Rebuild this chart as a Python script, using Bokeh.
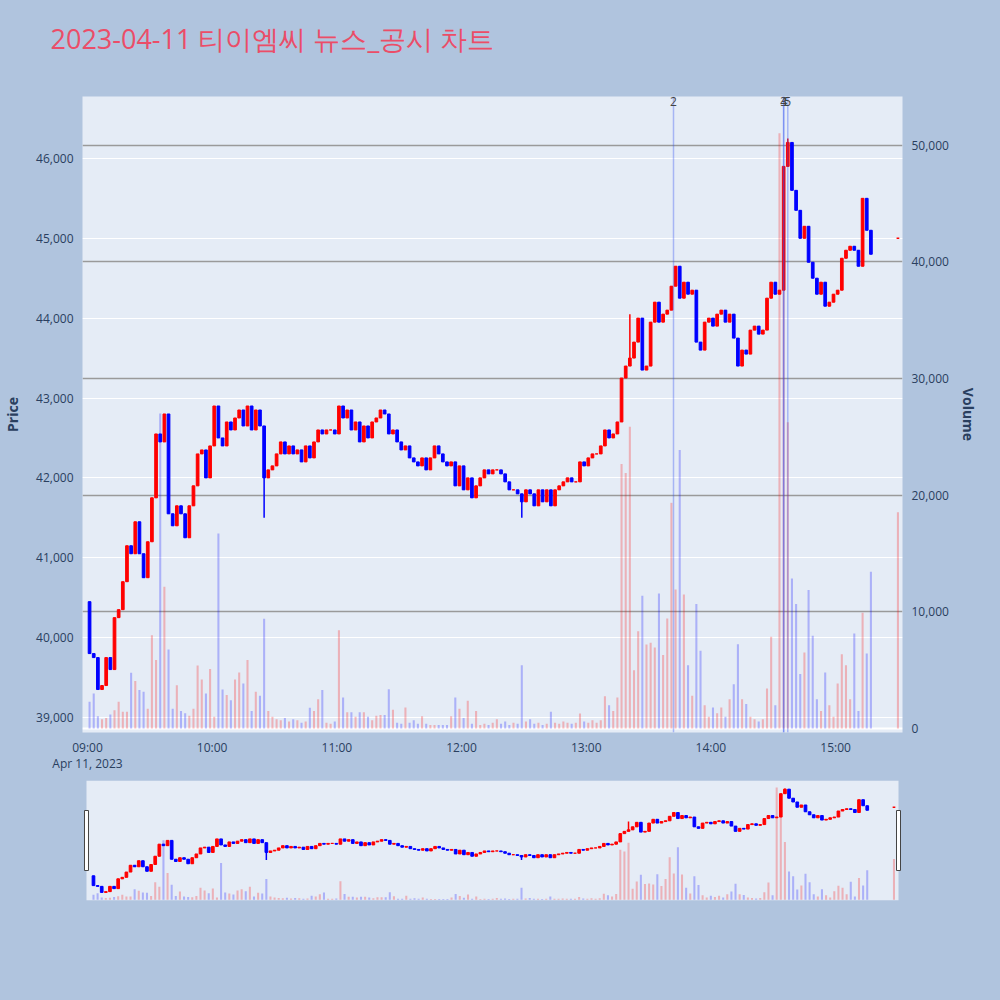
import pandas as pd
from bokeh.plotting import figure
from bokeh.models import (Range1d, LinearAxis, FixedTicker, NumeralTickFormatter,
                          DatetimeTickFormatter, Grid, Span, Label, ColumnDataSource,
                          BoxAnnotation, Title)
from bokeh.layouts import column
from bokeh.embed import file_html
from bokeh.resources import INLINE

# ---------------- data ----------------
title_text = "2023-04-11 티이엠씨 뉴스_공시 차트"
date_context = "Apr 11, 2023"
session_start = "2023-04-11 09:00"
bin_minutes = 2
first_open = 40450

closes = [
    39800, 39750, 39350, 39400, 39750, 39600, 40250, 40350, 40700, 41150,
    41050, 41450, 41050, 40750, 41200, 41750, 42550, 42450, 42800, 41550,
    41400, 41650, 41550, 41250, 41650, 41900, 42300, 42350, 42000, 42400,
    42900, 42500, 42400, 42700, 42600, 42750, 42850, 42650, 42900, 42600,
    42850, 42650, 42000, 42100, 42150, 42300, 42450, 42300, 42400, 42300,
    42350, 42200, 42400, 42250, 42450, 42600, 42550, 42600, 42600, 42550,
    42900, 42750, 42850, 42600, 42700, 42450, 42650, 42500, 42700, 42750,
    42850, 42800, 42550, 42600, 42450, 42350, 42400, 42250, 42200, 42150,
    42250, 42100, 42250, 42400, 42300, 42200, 42150, 42200, 41900, 42150,
    41850, 42000, 41750, 41900, 42000, 42100, 42050, 42100, 42100, 42050,
    41950, 41850, 41850, 41800, 41700, 41850, 41800, 41650, 41850, 41700,
    41850, 41650, 41850, 41900, 41950, 42000, 41950, 41950, 42200, 42150,
    42250, 42300, 42300, 42400, 42600, 42500, 42550, 42700, 43250, 43400,
    43500, 43700, 44000, 43350, 43400, 43950, 44200, 43950, 44050, 44100,
    44400, 44650, 44250, 44450, 44300, 44350, 43700, 43600, 43950, 44000,
    43900, 44050, 44100, 43950, 44050, 43750, 43400, 43600, 43550, 43850,
    43900, 43800, 43850, 44250, 44450, 44300, 44350, 45900, 46200, 45600,
    45350, 45000, 45150, 44700, 44500, 44300, 44450, 44150, 44200, 44300,
    44350, 44750, 44850, 44900, 44850, 44650, 45500, 45100, 44800,
]

volumes = [
    2300, 3000, 1050, 800, 900, 1200, 1570, 2290, 1430, 1430,
    4770, 4060, 3290, 3140, 1700, 8000, 5860, 27000, 12140, 6770,
    1700, 3700, 1500, 1300, 1100, 1700, 5400, 4200, 3000, 5090,
    1000, 16700, 3340, 2860, 2430, 4200, 4800, 3860, 5860, 1500,
    3140, 2800, 9400, 1500, 1000, 800, 700, 900, 600, 800,
    700, 500, 600, 1770, 1500, 2500, 3300, 500, 400, 600,
    8430, 2660, 1400, 1400, 1000, 1400, 1400, 1000, 700, 1100,
    1150, 1150, 3370, 1600, 500, 400, 1800, 500, 700, 400,
    1050, 400, 300, 300, 300, 300, 300, 1050, 2660, 1700,
    900, 2370, 400, 1500, 300, 400, 300, 500, 800, 400,
    600, 300, 500, 400, 5430, 600, 800, 400, 500, 300,
    400, 1430, 500, 400, 600, 500, 400, 500, 1290, 600,
    500, 700, 500, 700, 2770, 2000, 1500, 2660, 22660, 21900,
    25860, 5000, 8340, 11370, 7200, 7340, 6940, 11570, 6290, 9430,
    19340, 11910, 23860, 11490, 5430, 2800, 10660, 6660, 2000, 1000,
    1800, 1300, 1800, 1000, 2500, 3800, 7230, 2500, 2100, 1000,
    800, 600, 800, 3430, 7860, 2000, 51000, 37800, 26240, 12860,
    10660, 4660, 6510, 11860, 7940, 2500, 1500, 4800, 2000, 1000,
    3860, 6370, 5430, 2500, 8140, 1500, 9910, 6430, 13430,
]

wick_minute = [84, 208, 260, 336]
wick_price = [41500, 41500, 44050, 46250]

close_auction_time = "2023-04-11 15:30"
close_auction_price = 45000
close_auction_volume = 18540

news_times = ["2023-04-11 13:42", "2023-04-11 14:35", "2023-04-11 14:35", "2023-04-11 14:37"]
news_labels = ["2", "3", "4", "5"]

price_ticks = [39000, 40000, 41000, 42000, 43000, 44000, 45000, 46000]
volume_ticks = [0, 10000, 20000, 30000, 40000, 50000]
hour_ticks = ["2023-04-11 09:00", "2023-04-11 10:00", "2023-04-11 11:00", "2023-04-11 12:00",
              "2023-04-11 13:00", "2023-04-11 14:00", "2023-04-11 15:00"]

x_start, x_end = "2023-04-11 08:57:36", "2023-04-11 15:32:12"
price_lo, price_hi = 38812, 46775
vol_lo, vol_hi = -343, 54160

# ---------------- styling ----------------
PAGE_BG = "#B0C4DE"
PLOT_BG = "#E5ECF6"
INC = "#FF0000"
DEC = "#0000FF"
TXT = "#2a3f5f"
FONT = "Open Sans"
MIN = 60000.0


def ms(ts):
    return pd.Timestamp(ts).value / 1e6


base = ms(session_start)
n = len(closes)
opens = [first_open] + closes[:-1]
highs = [max(o, c) for o, c in zip(opens, closes)]
lows = [min(o, c) for o, c in zip(opens, closes)]
for m, pr in zip(wick_minute, wick_price):
    k = m // bin_minutes
    highs[k] = max(highs[k], pr)
    lows[k] = min(lows[k], pr)
xs = [base + (bin_minutes * k + bin_minutes / 2) * MIN for k in range(n)]
colors = [INC if c >= o else DEC for o, c in zip(opens, closes)]

src = ColumnDataSource(dict(
    x=xs, open=opens, close=closes, high=highs, low=lows,
    top=[max(o, c) for o, c in zip(opens, closes)],
    bot=[min(o, c) for o, c in zip(opens, closes)],
    vol=volumes, color=colors,
))
auc = ColumnDataSource(dict(x=[ms(close_auction_time)], p=[close_auction_price],
                            vol=[close_auction_volume], color=[INC]))


def draw_series(fig):
    fig.vbar(x="x", width=1.0 * MIN, top="vol", bottom=0, source=src, y_range_name="vol",
             fill_color="color", fill_alpha=0.25, line_alpha=0)
    fig.vbar(x="x", width=1.0 * MIN, top="vol", bottom=0, source=auc, y_range_name="vol",
             fill_color="color", fill_alpha=0.25, line_alpha=0)
    fig.segment(x0="x", y0="low", x1="x", y1="high", source=src, line_color="color", line_width=1.5)
    fig.vbar(x="x", width=1.3 * MIN, top="top", bottom="bot", source=src,
             fill_color="color", line_color="color", line_width=1)
    fig.vbar(x="x", width=1.3 * MIN, top="p", bottom="p", source=auc,
             fill_color="color", line_color="color", line_width=1.5)


# ---------------- main chart ----------------
p = figure(width=1000, height=780, output_backend="svg", toolbar_location=None,
           x_axis_type="datetime",
           x_range=Range1d(ms(x_start), ms(x_end)),
           y_range=Range1d(price_lo, price_hi),
           min_border_left=80, min_border_right=98, min_border_top=96, min_border_bottom=48)
p.extra_y_ranges = {"vol": Range1d(vol_lo, vol_hi)}
p.background_fill_color = PLOT_BG
p.border_fill_color = PAGE_BG
p.outline_line_color = None

# spacer between the frame and the title
p.add_layout(Title(text=" ", text_font_size="12px", standoff=19), "above")

p.title.text = title_text
p.title.text_font = FONT
p.title.text_font_size = "27px"
p.title.text_font_style = "normal"
p.title.text_color = "#EB4D68"
p.title.align = "left"
p.title.offset = -32
p.title.standoff = 10

# x axis
xa = p.xaxis[0]
hour_ms = [int(ms(t)) for t in hour_ticks]
xa.ticker = FixedTicker(ticks=hour_ms)
xa.formatter = DatetimeTickFormatter(hours="%H:%M", hourmin="%H:%M", minutes="%H:%M")
xa.major_label_overrides = {hour_ms[0]: "09:00\n" + date_context}
xa.major_tick_line_color = None
xa.minor_tick_line_color = None
xa.axis_line_color = None
xa.major_label_text_color = TXT
xa.major_label_text_font = FONT
xa.major_label_text_font_size = "12px"
xa.major_label_text_line_height = 0.95
xa.major_label_standoff = 0

# left price axis
ya = p.yaxis[0]
ya.ticker = FixedTicker(ticks=price_ticks)
ya.formatter = NumeralTickFormatter(format="0,0")
ya.axis_label = "Price"

# right volume axis
va = LinearAxis(y_range_name="vol", ticker=FixedTicker(ticks=volume_ticks),
                formatter=NumeralTickFormatter(format="0,0"), axis_label="Volume")
p.add_layout(va, "right")

for ax in (ya, va):
    ax.major_tick_line_color = None
    ax.minor_tick_line_color = None
    ax.axis_line_color = None
    ax.major_label_text_color = TXT
    ax.major_label_text_font = FONT
    ax.major_label_text_font_size = "12px"
    ax.major_label_standoff = 3
    ax.axis_label_text_font = FONT
    ax.axis_label_text_font_size = "14px"
    ax.axis_label_text_font_style = "bold"
    ax.axis_label_text_color = TXT
ya.axis_label_standoff = 11
va.axis_label_standoff = 7

# grids
p.xgrid.grid_line_color = None
p.ygrid.ticker = FixedTicker(ticks=price_ticks)
p.ygrid.grid_line_color = "white"
p.ygrid.grid_line_width = 1
vgrid = Grid(dimension=1, ticker=FixedTicker(ticks=volume_ticks[1:]), y_range_name="vol",
             grid_line_color="#9a9a9a", grid_line_width=1.5)
p.add_layout(vgrid)
p.add_layout(Span(location=0, dimension="width", y_range_name="vol",
                  line_color="white", line_width=2, level="underlay"))

draw_series(p)

# news markers
for t, lab in zip(news_times, news_labels):
    p.add_layout(Span(location=ms(t), dimension="height", line_color="#3050f0",
                      line_alpha=0.35, line_width=1.5))
    p.add_layout(Label(x=ms(t), y=price_hi, text=lab, text_align="center",
                       text_baseline="top", text_font=FONT, text_font_size="12px",
                       text_color="#444444"))

# ---------------- range navigator ----------------
# the navigator frame shares the main frame's borders; its data area is inset 4px each side
span_ms = ms(x_end) - ms(x_start)
per_px = span_ms / 814.0
nav = figure(width=1000, height=220, output_backend="svg", toolbar_location=None,
             x_range=Range1d(ms(x_start) - 4 * per_px, ms(x_end) + 4 * per_px),
             y_range=Range1d(price_lo, price_hi),
             x_axis_location=None, y_axis_location=None,
             min_border_left=80, min_border_right=98, min_border_top=0, min_border_bottom=100)
nav.extra_y_ranges = {"vol": Range1d(vol_lo, vol_hi)}
nav.background_fill_color = PAGE_BG
nav.border_fill_color = PAGE_BG
nav.outline_line_color = None
nav.xgrid.visible = False
nav.ygrid.visible = False
nav.add_layout(BoxAnnotation(left=ms(x_start), right=ms(x_end), fill_color=PLOT_BG,
                             fill_alpha=1.0, line_color=None, level="underlay"))
draw_series(nav)
nav.rect(x=[ms(x_start), ms(x_end)], y=[(price_lo + price_hi) / 2] * 2, width=4, height=60,
         width_units="screen", height_units="screen", fill_color="white",
         line_color="#444444", line_width=1)

layout = column(p, nav, spacing=0)
layout.styles = {"background-color": PAGE_BG}
open("out.html", "w").write(file_html(layout, INLINE))
